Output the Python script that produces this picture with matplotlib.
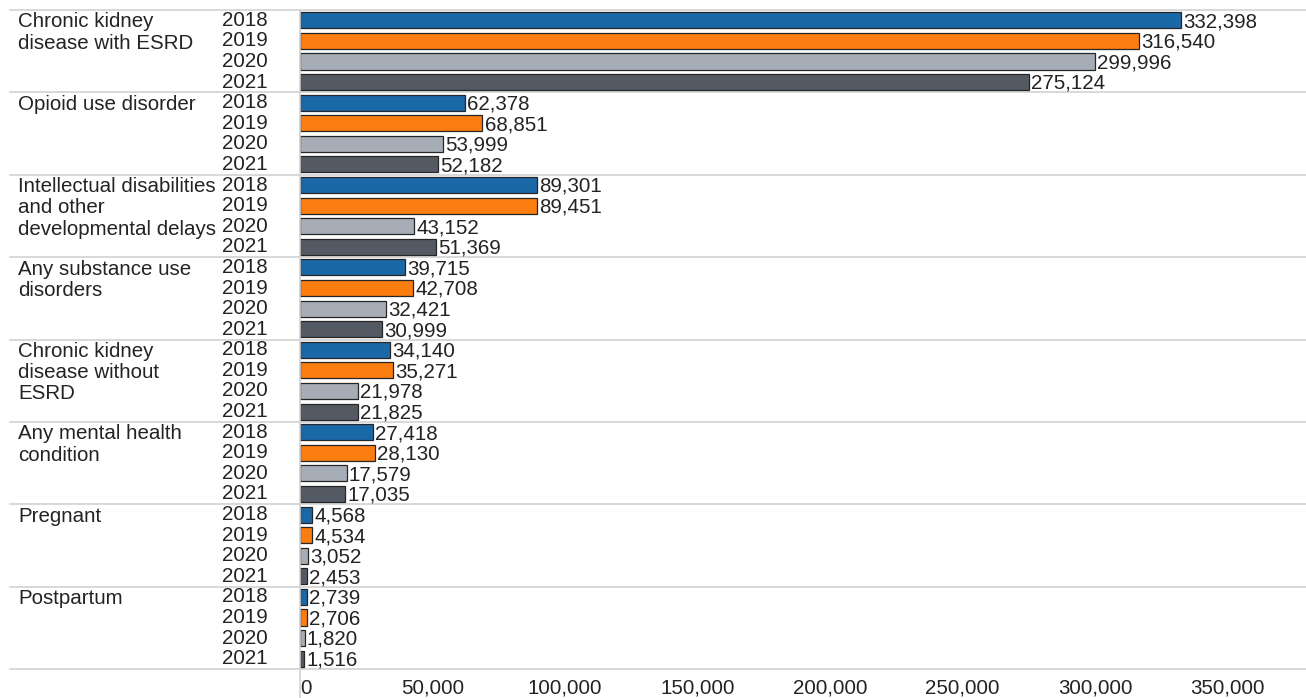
import matplotlib.pyplot as plt
from matplotlib.transforms import blended_transform_factory
from matplotlib.lines import Line2D

plt.rcParams['font.family'] = ['Liberation Sans', 'DejaVu Sans']

categories = [
    "Chronic kidney\ndisease with ESRD",
    "Opioid use disorder",
    "Intellectual disabilities\nand other\ndevelopmental delays",
    "Any substance use\ndisorders",
    "Chronic kidney\ndisease without\nESRD",
    "Any mental health\ncondition",
    "Pregnant",
    "Postpartum",
]
years = ["2018", "2019", "2020", "2021"]
values = [
    [332398, 316540, 299996, 275124],
    [62378, 68851, 53999, 52182],
    [89301, 89451, 43152, 51369],
    [39715, 42708, 32421, 30999],
    [34140, 35271, 21978, 21825],
    [27418, 28130, 17579, 17035],
    [4568, 4534, 3052, 2453],
    [2739, 2706, 1820, 1516],
]
year_colors = ["#1b68a7", "#fb7d10", "#a6adb7", "#545a63"]
ticks = [0, 50000, 100000, 150000, 200000, 250000, 300000, 350000]

W, H = 1306, 698
fig = plt.figure(figsize=(W / 100, H / 100), dpi=100)
ax = fig.add_axes([300 / W, (H - 669) / H, 1 - 300 / W, (669 - 10) / H])

txt = "#232323"
fs = 14.8
n_groups = len(categories)
n_years = len(years)

for g, row in enumerate(values):
    for i, v in enumerate(row):
        y = g * n_years + i + 0.5
        ax.barh(y, v, height=0.78, color=year_colors[i], edgecolor="#262626", linewidth=0.9)
        ax.annotate(f"{v:,}", (v, y), xytext=(1.5, -1), textcoords="offset points",
                    ha="left", va="center", fontsize=fs, color=txt)

ax.set_xlim(0, 379600)
ax.set_ylim(n_groups * n_years, 0)
ax.axis("off")

# left-hand labels live in figure x, data y
tr = blended_transform_factory(fig.transFigure, ax.transData)
for g, name in enumerate(categories):
    ax.text(18 / W, g * n_years + 0.12, name, transform=tr, ha="left", va="top",
            fontsize=fs, color=txt, linespacing=1.15)
    for i, yr in enumerate(years):
        ax.text(268 / W, g * n_years + i + 0.5, yr, transform=tr, ha="right", va="center",
                fontsize=fs, color=txt)

# group separators
for g in range(n_groups + 1):
    ax.add_line(Line2D([10 / W, 1], [g * n_years] * 2, transform=tr, color="#d2d2d2",
                       linewidth=1.2, clip_on=False, zorder=0))

# zero line running down through the tick labels
fig.add_artist(Line2D([300 / W, 300 / W], [(H - 10) / H, 0], color="#d2d2d2", linewidth=1.2))

# x tick labels below the last separator
trx = blended_transform_factory(ax.transData, fig.transFigure)
for t in ticks:
    ax.text(t, (H - 688) / H, f"{t:,}", transform=trx, ha="left" if t == 0 else "center",
            va="center", fontsize=fs, color=txt, clip_on=False)

fig.savefig("out.png", dpi=100, facecolor="white")
